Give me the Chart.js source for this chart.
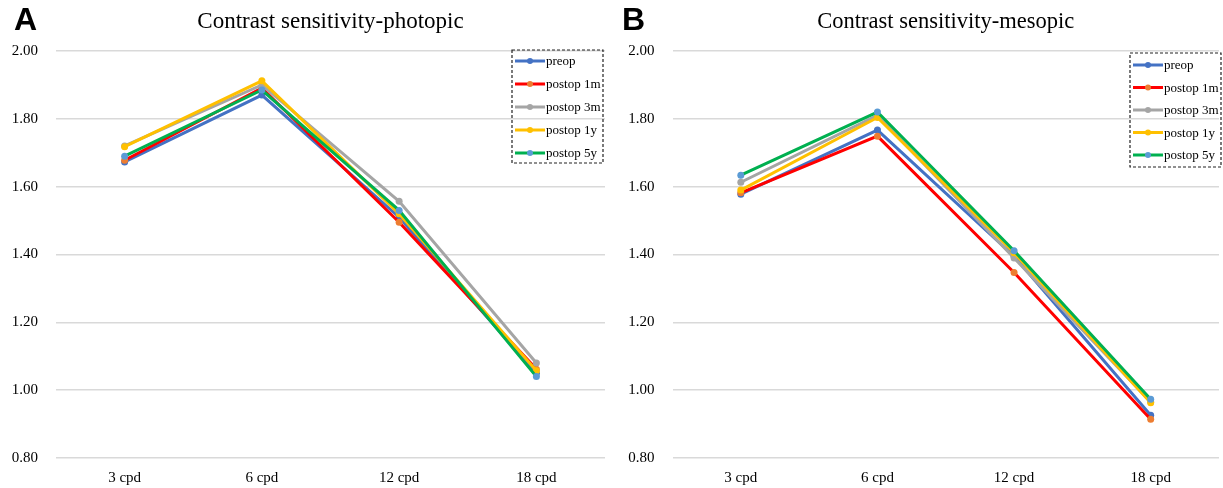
<!DOCTYPE html>
<html>
<head>
<meta charset="utf-8">
<script src="https://cdn.jsdelivr.net/npm/chart.js@4"></script>
<style>
    html, body { margin: 0; padding: 0; background: #fff; }
    body { width: 1223px; height: 488px; position: relative; overflow: hidden; }
    .panel { position: absolute; top: 0; height: 488px; }
    #panel-a { left: 0; width: 611px; }
    #panel-b { left: 611px; width: 612px; }
</style>
</head>
<body>
<div class="panel" id="panel-a"><canvas id="chart-a"></canvas></div>
<div class="panel" id="panel-b"><canvas id="chart-b"></canvas></div>
<script>
// data
const categories = ['3 cpd', '6 cpd', '12 cpd', '18 cpd'];
const seriesNames = ['preop', 'postop 1m', 'postop 3m', 'postop 1y', 'postop 5y'];
const yTicks = [0.8, 1.0, 1.2, 1.4, 1.6, 1.8, 2.0];

const photopicPreop = [1.673, 1.870, 1.510, 1.050];
const photopic1m = [1.678, 1.891, 1.495, 1.062];
const photopic3m = [1.720, 1.900, 1.557, 1.080];
const photopic1y = [1.718, 1.912, 1.520, 1.057];
const photopic5y = [1.690, 1.885, 1.530, 1.040];

const mesopicPreop = [1.578, 1.767, 1.395, 0.926];
const mesopic1m = [1.582, 1.749, 1.347, 0.914];
const mesopic3m = [1.613, 1.810, 1.390, 0.965];
const mesopic1y = [1.590, 1.804, 1.405, 0.963];
const mesopic5y = [1.634, 1.820, 1.411, 0.973];

const lineColors = ['#4472C4', '#FF0000', '#A5A5A5', '#FFC000', '#00B050'];
const pointColors = ['#4472C4', '#ED7D31', '#A5A5A5', '#FFC000', '#5B9BD5'];

const SERIF = '"Liberation Serif", "Times New Roman", serif';

/**
 * Draws panel letter, title and the dashed legend box
 */
const decorPlugin = {
    id: 'decor',
    afterDraw(chart, args, opts) {
        const ctx = chart.ctx,
            area = chart.chartArea;

        ctx.save();
        ctx.fillStyle = '#000';
        ctx.textBaseline = 'middle';

        // panel letter
        ctx.font = 'bold 32px "Liberation Sans", Arial, sans-serif';
        ctx.textAlign = 'left';
        ctx.fillText(opts.letter, opts.letterX, 21);

        // title
        ctx.font = opts.titleSize + 'px ' + SERIF;
        ctx.textAlign = 'center';
        ctx.fillText(opts.title, (area.left + area.right) / 2, 22);

        // legend
        const lg = opts.legend;
        ctx.setLineDash([3, 2]);
        ctx.lineWidth = 1.2;
        ctx.strokeStyle = '#222';
        ctx.strokeRect(lg.x, lg.y, lg.w, lg.h);
        ctx.setLineDash([]);

        ctx.font = '13px ' + SERIF;
        ctx.textAlign = 'left';
        seriesNames.forEach((name, i) => {
            const y = lg.y + lg.first + i * lg.step;
            ctx.strokeStyle = lineColors[i];
            ctx.lineWidth = 3;
            ctx.beginPath();
            ctx.moveTo(lg.x + 3, y);
            ctx.lineTo(lg.x + 33, y);
            ctx.stroke();
            ctx.fillStyle = pointColors[i];
            ctx.beginPath();
            ctx.arc(lg.x + 18, y, 3, 0, Math.PI * 2);
            ctx.fill();
            ctx.fillStyle = '#000';
            ctx.fillText(name, lg.x + 34, y + 1);
        });
        ctx.restore();
    }
};

function makeDatasets(seriesList) {
    return seriesList.map((values, i) => ({
        label: seriesNames[i],
        data: values,
        borderColor: lineColors[i],
        backgroundColor: pointColors[i],
        pointBackgroundColor: pointColors[i],
        pointBorderColor: pointColors[i],
        borderWidth: 3,
        pointRadius: 3.5,
        pointBorderWidth: 0,
        tension: 0,
        order: seriesList.length - i // later series drawn on top, like Excel
    }));
}

/**
 * @param {String} elementId
 * @param {Array} seriesList
 * @param {Object} decor
 * @param {Number} yWidth
 * @param {Number} padRight
 */
function initPanel(elementId, seriesList, decor, yWidth, padRight) {
    return new Chart(document.getElementById(elementId), {
        type: 'line',
        data: {
            labels: categories,
            datasets: makeDatasets(seriesList)
        },
        options: {
            responsive: true,
            maintainAspectRatio: false,
            animation: false,
            layout: {
                padding: { top: 51, right: padRight, bottom: 0, left: 0 }
            },
            plugins: {
                legend: { display: false },
                title: { display: false },
                tooltip: { enabled: false },
                decor
            },
            scales: {
                x: {
                    offset: true,
                    grid: { display: false, drawTicks: false },
                    border: { display: false },
                    ticks: {
                        color: '#000',
                        padding: 11,
                        font: { family: SERIF, size: 15 }
                    },
                    afterFit: s => { s.height = 30; }
                },
                y: {
                    min: 0.8,
                    max: 2.0,
                    afterBuildTicks: s => { s.ticks = yTicks.map(v => ({ value: v })); },
                    grid: { color: '#d9d9d9', lineWidth: 1.5, drawTicks: false },
                    border: { display: false },
                    ticks: {
                        color: '#000',
                        padding: 18,
                        font: { family: SERIF, size: 15 },
                        callback: v => Number(v).toFixed(2)
                    },
                    afterFit: s => { s.width = yWidth; }
                }
            }
        },
        plugins: [decorPlugin]
    });
}

initPanel('chart-a',
    [photopicPreop, photopic1m, photopic3m, photopic1y, photopic5y],
    {
        letter: 'A',
        letterX: 14,
        title: 'Contrast sensitivity-photopic',
        titleSize: 23,
        legend: { x: 512, y: 50, w: 91, h: 113, first: 11, step: 23 }
    },
    56, 6);

initPanel('chart-b',
    [mesopicPreop, mesopic1m, mesopic3m, mesopic1y, mesopic5y],
    {
        letter: 'B',
        letterX: 11,
        title: 'Contrast sensitivity-mesopic',
        titleSize: 22.5,
        legend: { x: 519, y: 53, w: 91, h: 114, first: 12, step: 22.5 }
    },
    61.5, 2.5);
</script>
</body>
</html>
